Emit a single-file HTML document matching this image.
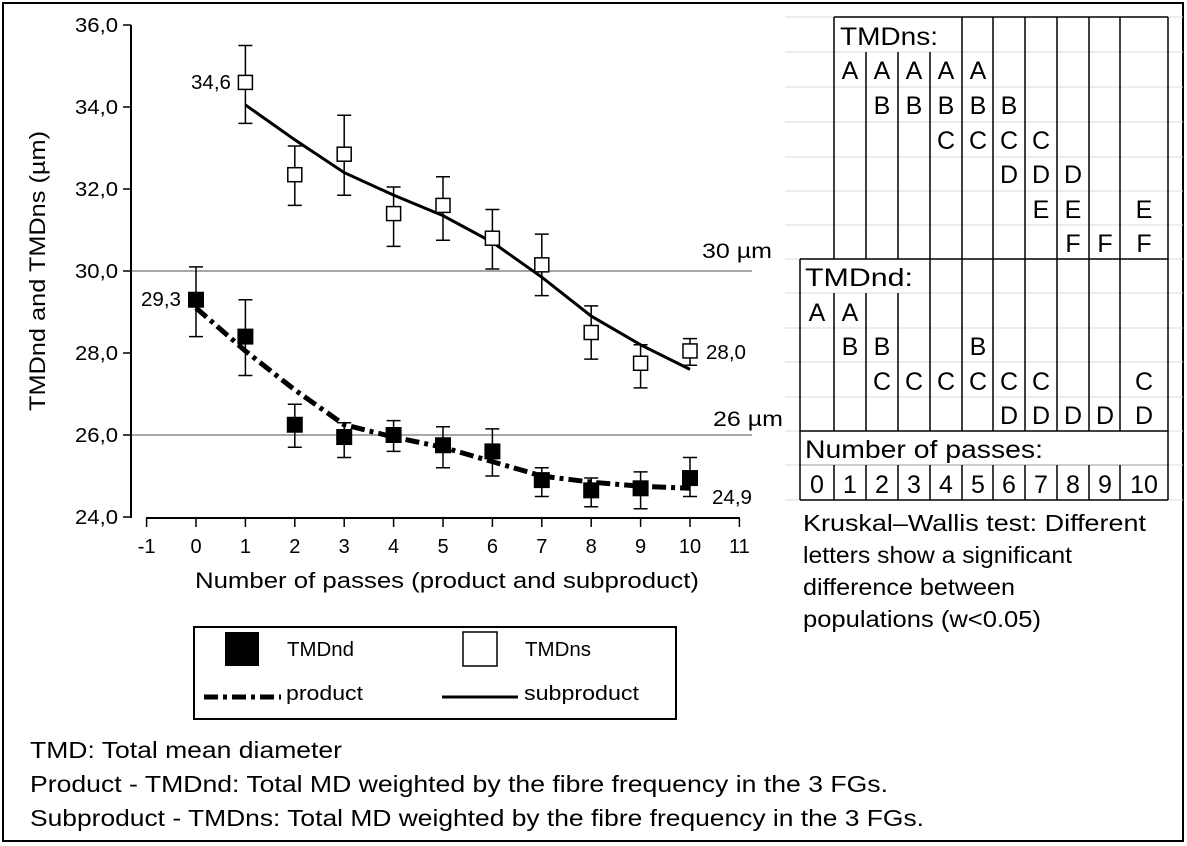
<!DOCTYPE html>
<html><head><meta charset="utf-8"><style>
html,body{margin:0;padding:0;background:#fff;}
svg{display:block;}
text{font-family:"Liberation Sans",sans-serif;}
</style></head><body>
<svg width="1187" height="846" viewBox="0 0 1187 846" xmlns="http://www.w3.org/2000/svg">
<rect x="3" y="3" width="1180" height="838" fill="#fff" stroke="#000" stroke-width="2"/>
<g stroke="#d8d8d8" stroke-width="1">
<line x1="785" y1="17" x2="1183" y2="17"/><line x1="785" y1="52" x2="1183" y2="52"/><line x1="785" y1="87" x2="1183" y2="87"/><line x1="785" y1="122" x2="1183" y2="122"/><line x1="785" y1="157" x2="1183" y2="157"/><line x1="785" y1="191" x2="1183" y2="191"/><line x1="785" y1="225" x2="1183" y2="225"/><line x1="785" y1="259" x2="1183" y2="259"/><line x1="785" y1="293" x2="1183" y2="293"/><line x1="785" y1="328" x2="1183" y2="328"/><line x1="785" y1="362" x2="1183" y2="362"/><line x1="785" y1="397" x2="1183" y2="397"/><line x1="785" y1="431" x2="1183" y2="431"/><line x1="785" y1="465" x2="1183" y2="465"/><line x1="785" y1="500" x2="1183" y2="500"/>
</g>
<g stroke="#000" stroke-width="2" fill="none">
<line x1="131" y1="25" x2="131" y2="518"/>
<line x1="146" y1="518" x2="740" y2="518"/>
</g>
<g stroke="#000" stroke-width="1.5">
<line x1="123" y1="25" x2="131" y2="25"/><line x1="123" y1="107" x2="131" y2="107"/><line x1="123" y1="189" x2="131" y2="189"/><line x1="123" y1="271" x2="131" y2="271"/><line x1="123" y1="353" x2="131" y2="353"/><line x1="123" y1="435" x2="131" y2="435"/><line x1="123" y1="517" x2="131" y2="517"/>
<line x1="146.6" y1="518" x2="146.6" y2="527"/><line x1="196" y1="518" x2="196" y2="527"/><line x1="245.4" y1="518" x2="245.4" y2="527"/><line x1="294.8" y1="518" x2="294.8" y2="527"/><line x1="344.2" y1="518" x2="344.2" y2="527"/><line x1="393.6" y1="518" x2="393.6" y2="527"/><line x1="443" y1="518" x2="443" y2="527"/><line x1="492.4" y1="518" x2="492.4" y2="527"/><line x1="541.8" y1="518" x2="541.8" y2="527"/><line x1="591.2" y1="518" x2="591.2" y2="527"/><line x1="640.6" y1="518" x2="640.6" y2="527"/><line x1="690" y1="518" x2="690" y2="527"/><line x1="739.4" y1="518" x2="739.4" y2="527"/>
</g>
<g font-size="20" text-anchor="end">
<text x="118" y="32" textLength="43" lengthAdjust="spacingAndGlyphs">36,0</text><text x="118" y="114" textLength="43" lengthAdjust="spacingAndGlyphs">34,0</text><text x="118" y="196" textLength="43" lengthAdjust="spacingAndGlyphs">32,0</text><text x="118" y="278" textLength="43" lengthAdjust="spacingAndGlyphs">30,0</text><text x="118" y="360" textLength="43" lengthAdjust="spacingAndGlyphs">28,0</text><text x="118" y="442" textLength="43" lengthAdjust="spacingAndGlyphs">26,0</text><text x="118" y="524" textLength="43" lengthAdjust="spacingAndGlyphs">24,0</text>
</g>
<g font-size="20" text-anchor="middle">
<text x="146.6" y="553">-1</text><text x="196" y="553">0</text><text x="245.4" y="553">1</text><text x="294.8" y="553">2</text><text x="344.2" y="553">3</text><text x="393.6" y="553">4</text><text x="443" y="553">5</text><text x="492.4" y="553">6</text><text x="541.8" y="553">7</text><text x="591.2" y="553">8</text><text x="640.6" y="553">9</text><text x="690" y="553">10</text><text x="739.4" y="553">11</text>
</g>
<text x="447" y="588" font-size="22" text-anchor="middle" textLength="504" lengthAdjust="spacingAndGlyphs">Number of passes (product and subproduct)</text>
<text transform="translate(45,271) rotate(-90)" font-size="22" text-anchor="middle" textLength="280" lengthAdjust="spacingAndGlyphs">TMDnd and TMDns (µm)</text>
<line x1="132" y1="271" x2="752" y2="271" stroke="#8c8c8c" stroke-width="1.5"/>
<line x1="132" y1="435" x2="752" y2="435" stroke="#8c8c8c" stroke-width="1.5"/>
<text x="772" y="258" font-size="21" text-anchor="end" textLength="70" lengthAdjust="spacingAndGlyphs">30 µm</text>
<text x="783" y="426" font-size="21" text-anchor="end" textLength="70" lengthAdjust="spacingAndGlyphs">26 µm</text>
<polyline fill="none" stroke="#000" stroke-width="3" points="245.4,104.95 294.8,139.8 344.2,172.6 393.6,195.15 443,215.65 492.4,242.3 541.8,277.15 591.2,316.1 640.6,344.8 690,369.4"/>
<polyline fill="none" stroke="#000" stroke-width="5" stroke-dasharray="14,5,4,5" points="196,307.9 245.4,350.95 294.8,389.9 344.2,424.75 393.6,437.05 443,447.3 492.4,461.65 541.8,476 591.2,482.15 640.6,486.25 690,488.3"/>
<g stroke="#000" stroke-width="1.5">
<path d="M245.4,45.5V123.4M238.4,45.5h14M238.4,123.4h14
M294.8,146V205.4M287.8,146h14M287.8,205.4h14
M344.2,115.2V195.2M337.2,115.2h14M337.2,195.2h14
M393.6,187V246.4M386.6,187h14M386.6,246.4h14
M443,176.7V240.25M436,176.7h14M436,240.25h14
M492.4,209.5V268.95M485.4,209.5h14M485.4,268.95h14
M541.8,234.1V295.6M534.8,234.1h14M534.8,295.6h14
M591.2,305.85V359.15M584.2,305.85h14M584.2,359.15h14
M640.6,344.8V387.85M633.6,344.8h14M633.6,387.85h14
M690,338.65V365.3M683,338.65h14M683,365.3h14
M196,266.9V336.6M189,266.9h14M189,336.6h14
M245.4,299.7V375.55M238.4,299.7h14M238.4,375.55h14
M294.8,404.25V447.3M287.8,404.25h14M287.8,447.3h14
M344.2,422.7V457.55M337.2,422.7h14M337.2,457.55h14
M393.6,420.65V451.4M386.6,420.65h14M386.6,451.4h14
M443,426.8V467.8M436,426.8h14M436,467.8h14
M492.4,428.85V476M485.4,428.85h14M485.4,476h14
M541.8,467.8V496.5M534.8,467.8h14M534.8,496.5h14
M591.2,478.05V506.75M584.2,478.05h14M584.2,506.75h14
M640.6,471.9V508.8M633.6,471.9h14M633.6,508.8h14
M690,457.55V496.5M683,457.55h14M683,496.5h14" fill="none"/>
</g>
<g fill="#fff" stroke="#000" stroke-width="1.5">
<rect x="238.4" y="75.4" width="14" height="14"/><rect x="287.8" y="167.7" width="14" height="14"/><rect x="337.2" y="147.2" width="14" height="14"/><rect x="386.6" y="206.6" width="14" height="14"/><rect x="436" y="198.4" width="14" height="14"/><rect x="485.4" y="231.2" width="14" height="14"/><rect x="534.8" y="257.85" width="14" height="14"/><rect x="584.2" y="325.5" width="14" height="14"/><rect x="633.6" y="356.25" width="14" height="14"/><rect x="683" y="343.95" width="14" height="14"/>
</g>
<g fill="#000">
<rect x="188" y="291.7" width="16" height="16"/><rect x="237.4" y="328.6" width="16" height="16"/><rect x="286.8" y="416.75" width="16" height="16"/><rect x="336.2" y="429.05" width="16" height="16"/><rect x="385.6" y="427" width="16" height="16"/><rect x="435" y="437.25" width="16" height="16"/><rect x="484.4" y="443.4" width="16" height="16"/><rect x="533.8" y="472.1" width="16" height="16"/><rect x="583.2" y="482.35" width="16" height="16"/><rect x="632.6" y="480.3" width="16" height="16"/><rect x="682" y="470.05" width="16" height="16"/>
</g>
<g font-size="20">
<text x="231" y="89" text-anchor="end" textLength="40" lengthAdjust="spacingAndGlyphs">34,6</text>
<text x="181" y="306" text-anchor="end" textLength="40" lengthAdjust="spacingAndGlyphs">29,3</text>
<text x="706" y="359" textLength="40" lengthAdjust="spacingAndGlyphs">28,0</text>
<text x="712" y="504" textLength="40" lengthAdjust="spacingAndGlyphs">24,9</text>
</g>
<rect x="194" y="627" width="482" height="92" fill="#fff" stroke="#000" stroke-width="2"/>
<rect x="225" y="632" width="34" height="34" fill="#000"/>
<rect x="463" y="632" width="34" height="34" fill="#fff" stroke="#000" stroke-width="1.5"/>
<text x="287" y="656" font-size="20" textLength="67" lengthAdjust="spacingAndGlyphs">TMDnd</text>
<text x="525" y="656" font-size="20" textLength="66" lengthAdjust="spacingAndGlyphs">TMDns</text>
<line x1="204" y1="697" x2="281" y2="697" stroke="#000" stroke-width="5" stroke-dasharray="14,5,4,5"/>
<text x="286" y="700" font-size="20" textLength="77" lengthAdjust="spacingAndGlyphs">product</text>
<line x1="442" y1="697" x2="518" y2="697" stroke="#000" stroke-width="3"/>
<text x="524" y="700" font-size="20" textLength="115" lengthAdjust="spacingAndGlyphs">subproduct</text>
<g font-size="23">
<text x="30" y="758" textLength="312" lengthAdjust="spacingAndGlyphs">TMD: Total mean diameter</text>
<text x="30" y="792" textLength="858" lengthAdjust="spacingAndGlyphs">Product - TMDnd: Total MD weighted by the fibre frequency in the 3 FGs.</text>
<text x="30" y="826" textLength="894" lengthAdjust="spacingAndGlyphs">Subproduct - TMDns: Total MD weighted by the fibre frequency in the 3 FGs.</text>
</g>
<g font-size="23">
<text x="803" y="531" textLength="343" lengthAdjust="spacingAndGlyphs">Kruskal–Wallis test: Different</text>
<text x="803" y="563" textLength="269" lengthAdjust="spacingAndGlyphs">letters show a significant</text>
<text x="803" y="595" textLength="212" lengthAdjust="spacingAndGlyphs">difference between</text>
<text x="803" y="627" textLength="238" lengthAdjust="spacingAndGlyphs">populations (w&lt;0.05)</text>
</g>
<g stroke="#000" stroke-width="1.5" fill="none">
<line x1="834" y1="17" x2="1168" y2="17"/>
<line x1="800" y1="259" x2="1168" y2="259"/>
<line x1="800" y1="431" x2="1168" y2="431"/>
<line x1="800" y1="465" x2="1168" y2="465" stroke="#bbb"/>
<line x1="800" y1="500" x2="1168" y2="500"/>
<line x1="1168" y1="17" x2="1168" y2="500"/>
<line x1="834" y1="17" x2="834" y2="259"/>
<line x1="800" y1="259" x2="800" y2="500"/>
<line x1="866" y1="52" x2="866" y2="259"/><line x1="898" y1="52" x2="898" y2="259"/><line x1="930" y1="52" x2="930" y2="259"/>
<line x1="962" y1="17" x2="962" y2="259"/><line x1="993" y1="17" x2="993" y2="259"/><line x1="1025" y1="17" x2="1025" y2="259"/><line x1="1057" y1="17" x2="1057" y2="259"/><line x1="1089" y1="17" x2="1089" y2="259"/><line x1="1120" y1="17" x2="1120" y2="259"/>
<line x1="834" y1="293" x2="834" y2="431"/><line x1="866" y1="293" x2="866" y2="431"/><line x1="898" y1="293" x2="898" y2="431"/>
<line x1="930" y1="259" x2="930" y2="431"/><line x1="962" y1="259" x2="962" y2="431"/><line x1="993" y1="259" x2="993" y2="431"/><line x1="1025" y1="259" x2="1025" y2="431"/><line x1="1057" y1="259" x2="1057" y2="431"/><line x1="1089" y1="259" x2="1089" y2="431"/><line x1="1120" y1="259" x2="1120" y2="431"/>
<line x1="834" y1="465" x2="834" y2="500"/><line x1="866" y1="465" x2="866" y2="500"/><line x1="898" y1="465" x2="898" y2="500"/><line x1="930" y1="465" x2="930" y2="500"/><line x1="962" y1="465" x2="962" y2="500"/><line x1="993" y1="465" x2="993" y2="500"/><line x1="1025" y1="465" x2="1025" y2="500"/><line x1="1057" y1="465" x2="1057" y2="500"/><line x1="1089" y1="465" x2="1089" y2="500"/><line x1="1120" y1="465" x2="1120" y2="500"/>
</g>
<g font-size="25" text-anchor="middle">
<text x="840" y="45" text-anchor="start" textLength="98" lengthAdjust="spacingAndGlyphs">TMDns:</text>
<text x="850" y="79">A</text><text x="882" y="79">A</text><text x="914" y="79">A</text><text x="946" y="79">A</text><text x="978" y="79">A</text>
<text x="882" y="114">B</text><text x="914" y="114">B</text><text x="946" y="114">B</text><text x="978" y="114">B</text><text x="1009" y="114">B</text>
<text x="946" y="149">C</text><text x="978" y="149">C</text><text x="1009" y="149">C</text><text x="1041" y="149">C</text>
<text x="1009" y="183">D</text><text x="1041" y="183">D</text><text x="1073" y="183">D</text>
<text x="1041" y="218">E</text><text x="1073" y="218">E</text><text x="1144" y="218">E</text>
<text x="1073" y="252">F</text><text x="1105" y="252">F</text><text x="1144" y="252">F</text>
<text x="805" y="286" text-anchor="start" textLength="108" lengthAdjust="spacingAndGlyphs">TMDnd:</text>
<text x="817" y="321">A</text><text x="850" y="321">A</text>
<text x="850" y="355">B</text><text x="882" y="355">B</text><text x="978" y="355">B</text>
<text x="882" y="390">C</text><text x="914" y="390">C</text><text x="946" y="390">C</text><text x="978" y="390">C</text><text x="1009" y="390">C</text><text x="1041" y="390">C</text><text x="1144" y="390">C</text>
<text x="1009" y="424">D</text><text x="1041" y="424">D</text><text x="1073" y="424">D</text><text x="1105" y="424">D</text><text x="1144" y="424">D</text>
<text x="805" y="458" text-anchor="start" textLength="238" lengthAdjust="spacingAndGlyphs">Number of passes:</text>
<text x="817" y="493">0</text><text x="850" y="493">1</text><text x="882" y="493">2</text><text x="914" y="493">3</text><text x="946" y="493">4</text><text x="978" y="493">5</text><text x="1009" y="493">6</text><text x="1041" y="493">7</text><text x="1073" y="493">8</text><text x="1105" y="493">9</text><text x="1144" y="493">10</text>
</g>
</svg>
</body></html>
